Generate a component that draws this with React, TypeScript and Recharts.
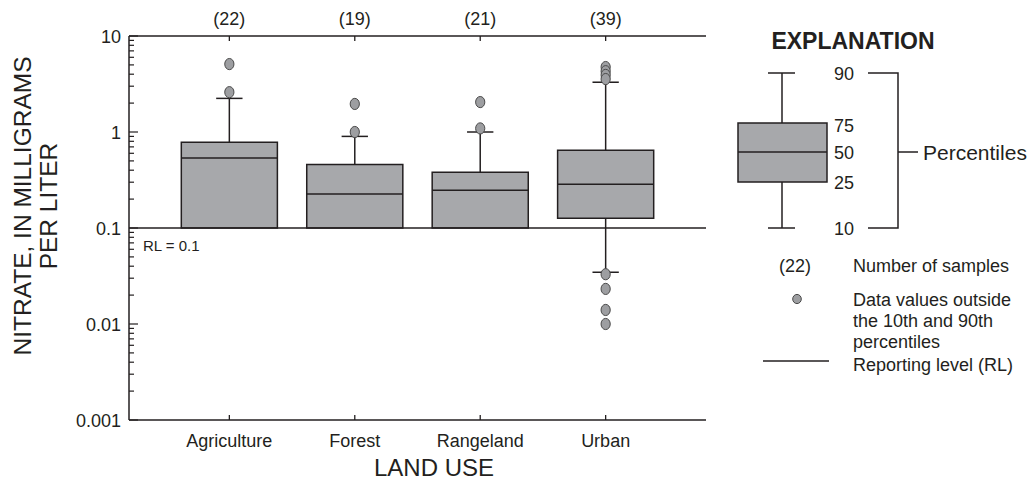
import { ComposedChart, XAxis, YAxis, ReferenceArea, ReferenceLine, Scatter } from 'recharts';

const categories = ['Agriculture', 'Forest', 'Rangeland', 'Urban'];
const sampleCounts = [22, 19, 21, 39];
// percentiles in mg/L; 25th percentiles under the reporting level are drawn at RL
const p10 = [null, null, null, 0.0346];
const p25 = [0.1, 0.1, 0.1, 0.126];
const p50 = [0.535, 0.226, 0.247, 0.285];
const p75 = [0.78, 0.46, 0.38, 0.645];
const p90 = [2.24, 0.9, 1.0, 3.3];
const outlierValues = [
  [5.1, 2.6],
  [1.96, 1.0],
  [2.05, 1.09],
  [4.75, 4.3, 3.93, 3.56, 0.033, 0.0232, 0.014, 0.01],
];
const reportingLevel = 0.1;

const majorTicks = [0.001, 0.01, 0.1, 1, 10];
const majorLabels = ['0.001', '0.01', '0.1', '1', '10'];
const minorTicks = [0.001, 0.01, 0.1, 1].flatMap((d) => [2, 3, 4, 5, 6, 7, 8, 9].map((m) => d * m));
const yTicks = [...majorTicks, ...minorTicks];

const INK = '#231f20';
const BOX_FILL = '#a7a8ab';
const FONT = "'Liberation Sans', Arial, Helvetica, sans-serif";
const HALF_BOX = 0.383;
const HALF_CAP = 0.105;

const outlierPoints = outlierValues.flatMap((vals, i) => vals.map((v) => ({ x: i + 1, y: v })));
// anchors for the top (sample count) axis so it gets its own scale
const countAnchors = sampleCounts.map((n, i) => ({ x: i + 1, y: 10, n }));

const BottomTick = ({ x, y, payload }: any) => (
  <g>
    <line x1={x} y1={y} x2={x} y2={y - 5} stroke={INK} strokeWidth={1.3} />
    <text x={x} y={y + 27} textAnchor="middle" fontSize={18} fill={INK} fontFamily={FONT}>
      {categories[payload.value - 1]}
    </text>
  </g>
);

const TopTick = ({ x, y, payload }: any) => (
  <g>
    <line x1={x} y1={y} x2={x} y2={y + 5} stroke={INK} strokeWidth={1.3} />
    <text x={x} y={y - 11} textAnchor="middle" fontSize={18} fill={INK} fontFamily={FONT}>
      ({sampleCounts[payload.value - 1]})
    </text>
  </g>
);

const LeftTick = ({ x, y, payload }: any) => {
  const idx = majorTicks.indexOf(payload.value);
  const len = idx >= 0 ? 9 : 5;
  return (
    <g>
      <line x1={x} y1={y} x2={x + len} y2={y} stroke={INK} strokeWidth={1.2} />
      {idx >= 0 && (
        <text x={x - 8} y={y + 6.5} textAnchor="end" fontSize={18} fill={INK} fontFamily={FONT}>
          {majorLabels[idx]}
        </text>
      )}
    </g>
  );
};

const RightTick = ({ x, y, payload }: any) => {
  const len = majorTicks.includes(payload.value) ? 9 : 5;
  return <line x1={x} y1={y} x2={x - len} y2={y} stroke={INK} strokeWidth={1.2} />;
};

const OutlierDot = ({ cx, cy }: any) => (
  <ellipse cx={cx} cy={cy} rx={4.6} ry={5.6} fill="#9d9ea1" stroke="#4a4a4a" strokeWidth={1} />
);

const Explanation = () => (
  <svg width={1029} height={482} style={{ position: 'absolute', left: 0, top: 0, pointerEvents: 'none' }} fontFamily={FONT} fill={INK}>
    {/* axis titles */}
    <text transform="translate(31,206) rotate(-90)" textAnchor="middle" fontSize={24.5}>NITRATE, IN MILLIGRAMS</text>
    <text transform="translate(57,206) rotate(-90)" textAnchor="middle" fontSize={24.5}>PER LITER</text>
    <text x={434} y={476} textAnchor="middle" fontSize={24}>LAND USE</text>
    <text x={143} y={251} fontSize={15}>RL = 0.1</text>

    <text x={853} y={49} textAnchor="middle" fontSize={23} fontWeight="bold">EXPLANATION</text>
    <g stroke={INK} strokeWidth={1.5}>
      <line x1={782} y1={73} x2={782} y2={123} />
      <line x1={782} y1={182} x2={782} y2={228} />
      <line x1={768} y1={73} x2={795} y2={73} />
      <line x1={768} y1={228} x2={795} y2={228} />
      <rect x={738} y={123} width={89} height={59} fill={BOX_FILL} />
      <line x1={738} y1={152} x2={827} y2={152} />
      <polyline points="868,73 898,73 898,228 868,228" fill="none" />
      <line x1={898} y1={152} x2={918} y2={152} />
      <line x1={763} y1={361} x2={829} y2={361} />
    </g>
    {[['90', 73], ['75', 125], ['50', 152], ['25', 182], ['10', 228]].map(([t, y]) => (
      <text key={t} x={834} y={(y as number) + 6.5} fontSize={18}>{t}</text>
    ))}
    <text x={923} y={159.5} fontSize={21}>Percentiles</text>
    <text x={795} y={271.5} textAnchor="middle" fontSize={18}>(22)</text>
    <text x={853} y={271.5} fontSize={18}>Number of samples</text>
    <ellipse cx={797} cy={299} rx={4.3} ry={4.6} fill="#9d9ea1" stroke="#4a4a4a" strokeWidth={1} />
    <text x={853} y={305.5} fontSize={18}>Data values outside</text>
    <text x={853} y={326.5} fontSize={18}>the 10th and 90th</text>
    <text x={853} y={347.5} fontSize={18}>percentiles</text>
    <text x={853} y={371} fontSize={18}>Reporting level (RL)</text>
  </svg>
);

export default function App() {
  const ax = { xAxisId: 'bottom', yAxisId: 'left' } as const;
  return (
    <div style={{ position: 'absolute', left: 0, top: 0, width: 1029, height: 482, background: '#fff' }}>
      <ComposedChart width={1029} height={482} margin={{ top: 0, right: 323, bottom: 0, left: 0 }}>
        <XAxis xAxisId="bottom" dataKey="x" type="number" domain={[0.2, 4.8]} ticks={[1, 2, 3, 4]}
          orientation="bottom" height={62} tickSize={0} tickMargin={0} tickLine={false}
          axisLine={{ stroke: INK, strokeWidth: 1.5 }} tick={<BottomTick />} interval={0} />
        <XAxis xAxisId="top" dataKey="x" type="number" domain={[0.2, 4.8]} ticks={[1, 2, 3, 4]}
          orientation="top" height={36} tickSize={0} tickMargin={0} tickLine={false}
          axisLine={{ stroke: INK, strokeWidth: 1.5 }} tick={<TopTick />} interval={0} />
        <YAxis yAxisId="left" dataKey="y" type="number" scale="log" domain={[0.001, 10]} allowDataOverflow
          ticks={yTicks} interval={0} width={129} tickSize={0} tickMargin={0} tickLine={false}
          axisLine={{ stroke: INK, strokeWidth: 1.5 }} tick={<LeftTick />} />
        <YAxis yAxisId="right" dataKey="y" orientation="right" type="number" scale="log" domain={[0.001, 10]} allowDataOverflow
          ticks={yTicks} interval={0} width={0} tickSize={0} tickMargin={0} tickLine={false}
          axisLine={{ stroke: INK, strokeWidth: 1.5 }} tick={<RightTick />} />

        {categories.map((c, i) => (
          <ReferenceArea key={`box-${c}`} {...ax} x1={i + 1 - HALF_BOX} x2={i + 1 + HALF_BOX} y1={p25[i]} y2={p75[i]}
            fill={BOX_FILL} fillOpacity={1} stroke={INK} strokeWidth={1.5} />
        ))}
        {categories.map((c, i) => (
          <ReferenceLine key={`med-${c}`} {...ax} stroke={INK} strokeWidth={1.5}
            segment={[{ x: i + 1 - HALF_BOX, y: p50[i] }, { x: i + 1 + HALF_BOX, y: p50[i] }]} />
        ))}
        {categories.map((c, i) => (
          <ReferenceLine key={`wu-${c}`} {...ax} stroke={INK} strokeWidth={1.5}
            segment={[{ x: i + 1, y: p75[i] }, { x: i + 1, y: p90[i] }]} />
        ))}
        {categories.map((c, i) => (
          <ReferenceLine key={`cu-${c}`} {...ax} stroke={INK} strokeWidth={1.5}
            segment={[{ x: i + 1 - HALF_CAP, y: p90[i] }, { x: i + 1 + HALF_CAP, y: p90[i] }]} />
        ))}
        {categories.map((c, i) =>
          p10[i] == null ? null : (
            <ReferenceLine key={`wl-${c}`} {...ax} stroke={INK} strokeWidth={1.5}
              segment={[{ x: i + 1, y: p25[i] }, { x: i + 1, y: p10[i] as number }]} />
          )
        )}
        {categories.map((c, i) =>
          p10[i] == null ? null : (
            <ReferenceLine key={`cl-${c}`} {...ax} stroke={INK} strokeWidth={1.5}
              segment={[{ x: i + 1 - HALF_CAP, y: p10[i] as number }, { x: i + 1 + HALF_CAP, y: p10[i] as number }]} />
          )
        )}
        <ReferenceLine {...ax} y={reportingLevel} stroke={INK} strokeWidth={1.5} />
        <Scatter {...ax} data={outlierPoints} shape={<OutlierDot />} isAnimationActive={false} />
        <Scatter xAxisId="top" yAxisId="right" data={countAnchors} shape={() => <g />} isAnimationActive={false} />
      </ComposedChart>
      <Explanation />
    </div>
  );
}
